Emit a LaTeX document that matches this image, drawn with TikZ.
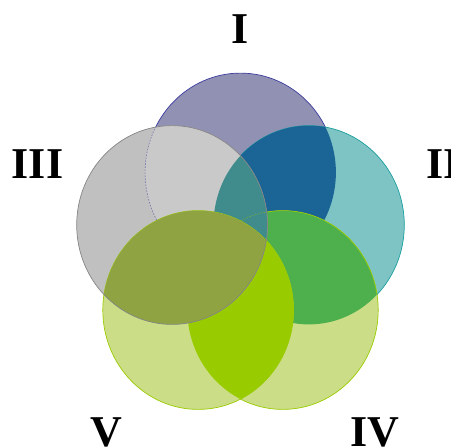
\documentclass[tikz,border=0pt]{standalone}
\usepackage{fontspec}
\setmainfont{Liberation Serif}
\definecolor{lavender}{HTML}{9191B4}
\definecolor{lavenderRim}{HTML}{3C3CA0}
\definecolor{aqua}{HTML}{7EC4C4}
\definecolor{aquaRim}{HTML}{1A9E9E}
\definecolor{stone}{HTML}{C0C0C0}
\definecolor{stoneLight}{HTML}{C9C9C9}
\definecolor{stoneRim}{HTML}{858585}
\definecolor{lime}{HTML}{CCDD88}
\definecolor{limeRim}{HTML}{99CC00}
\definecolor{deepBlue}{HTML}{1A6496}
\definecolor{deepTeal}{HTML}{408C8C}
\definecolor{leaf}{HTML}{4DB04D}
\definecolor{oliveMix}{HTML}{8FA342}
\definecolor{brightLime}{HTML}{99CC00}
\tikzset{
  rim/.style={line width=0.7pt},
  ghostrim/.style={line width=0.6pt,dash pattern=on 1.5pt off 1.5pt,opacity=0.6},
  numeral/.style={font=\fontsize{44}{44}\selectfont\bfseries,inner sep=0pt,anchor=base}
}
\newcommand\venndisc[1]{(#1) ellipse [x radius=95.4pt, y radius=99.4pt]}

\begin{document}
\begin{tikzpicture}[x=1pt,y=-1pt]
  \useasboundingbox (0,0) rectangle (451,447);
  \coordinate (cI) at (240.5,172.5);
  \coordinate (cII) at (308.9,225);
  \coordinate (cIII) at (172.1,225);
  \coordinate (cIV) at (282.8,310);
  \coordinate (cV) at (198.2,310);
  % I
  \fill[lavender] \venndisc{cI};
  \draw[rim,lavenderRim] \venndisc{cI};
  % II
  \fill[aqua] \venndisc{cII};
  \draw[rim,aquaRim] \venndisc{cII};
  \begin{scope}
    \clip \venndisc{cI};
    \fill[deepBlue] \venndisc{cII};
  \end{scope}
  % IV
  \fill[lime] \venndisc{cIV};
  \begin{scope}
    \clip \venndisc{cII};
    \fill[leaf] \venndisc{cIV};
  \end{scope}
  \draw[rim,limeRim] \venndisc{cIV};
  % III
  \fill[stone] \venndisc{cIII};
  \begin{scope}
    \clip \venndisc{cIII};
    \fill[stoneLight] \venndisc{cI};
    \fill[deepTeal] \venndisc{cII};
    \draw[ghostrim,lavenderRim] \venndisc{cI};
    \draw[ghostrim,limeRim] \venndisc{cIV};
  \end{scope}
  % V
  \fill[lime] \venndisc{cV};
  \draw[rim,limeRim] \venndisc{cV};
  \begin{scope}
    \clip \venndisc{cV};
    \fill[brightLime] \venndisc{cIV};
    \fill[oliveMix] \venndisc{cIII};
  \end{scope}
  \draw[rim,stoneRim] \venndisc{cIII};
  % labels
  \node[numeral] (lblI) at (240.5,43) {I};
  \node[numeral,anchor=base west] (lblII) at (426,178) {II};
  \node[numeral] (lblIII) at (37.5,178) {III};
  \node[numeral] (lblIV) at (375,446) {IV};
  \node[numeral] (lblV) at (106,446) {V};
\end{tikzpicture}
\end{document}
